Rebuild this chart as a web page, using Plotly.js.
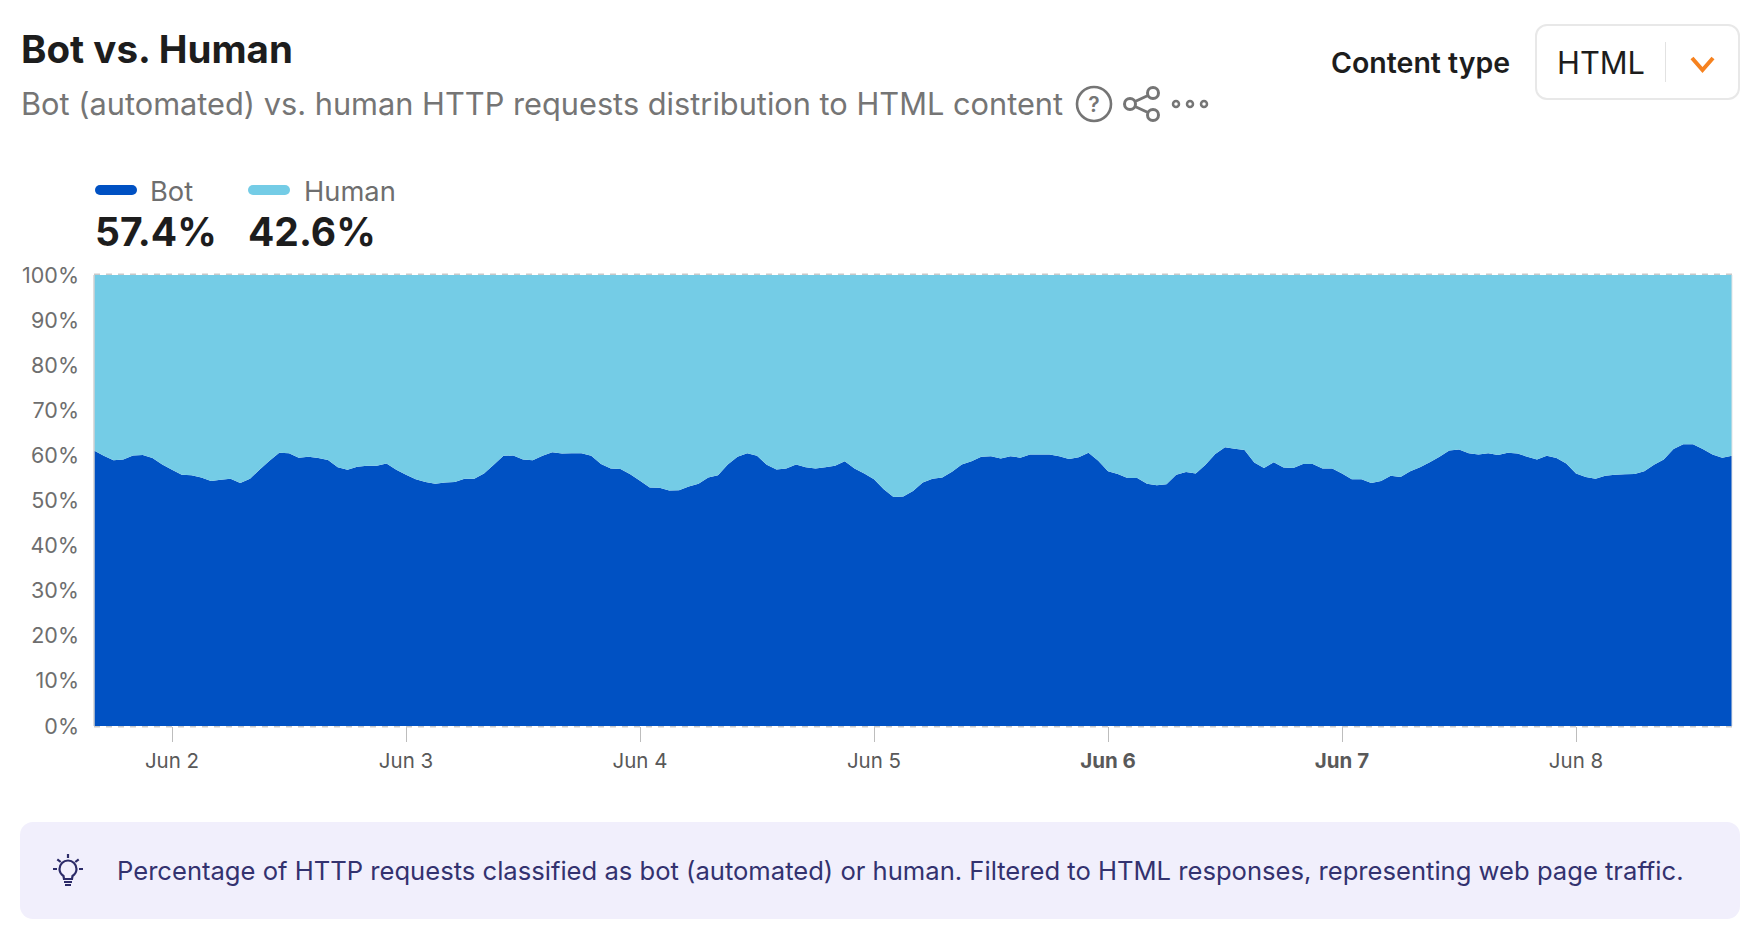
<!DOCTYPE html>
<html><head><meta charset="utf-8">
<script src="https://cdn.plot.ly/plotly-3.0.1.min.js"></script>
<style>
html,body{margin:0;padding:0;background:#fff;width:1758px;height:942px;overflow:hidden;font-family:Inter,sans-serif}
#chart{position:absolute;left:0;top:0;width:1758px;height:942px}
.t{position:absolute;white-space:nowrap;line-height:1}
svg.i{position:absolute;overflow:visible}
</style></head><body>
<div id="chart"></div>
<div class="t" style="left:21px;top:30px;font-size:38.500px;font-weight:700;color:#1d1d1d">Bot vs. Human</div>
<div class="t" style="left:21px;top:89px;font-size:30.760px;font-weight:400;color:#757575">Bot (automated) vs. human HTTP requests distribution to HTML content</div>
<svg class="i" style="left:1075px;top:85px" width="40" height="40" viewBox="0 0 40 40"><circle cx="19" cy="19" r="17" fill="none" stroke="#757575" stroke-width="2.6"/><text x="19" y="27" font-family="Inter" font-size="21" font-weight="600" text-anchor="middle" fill="#757575">?</text></svg>
<svg class="i" style="left:1122px;top:85px" width="40" height="40" viewBox="0 0 40 40" fill="none" stroke="#757575" stroke-width="3"><circle cx="8" cy="19" r="5.500"/><circle cx="31" cy="8" r="5.500"/><circle cx="31" cy="30" r="5.500"/><path d="M13 16.500L26 10.500M13 21.500L26 27.500"/></svg>
<svg class="i" style="left:1170px;top:96px" width="40" height="20" viewBox="0 0 40 20" fill="none" stroke="#757575" stroke-width="2.500"><circle cx="6" cy="8" r="3"/><circle cx="20" cy="8" r="3"/><circle cx="34" cy="8" r="3"/></svg>
<div class="t" style="left:1331px;top:49px;font-size:28.500px;font-weight:600;color:#1d1d1d">Content type</div>
<div style="position:absolute;left:1535px;top:24px;width:201px;height:72px;border:2px solid #e8e8e8;border-radius:12px;box-sizing:content-box"></div>
<div class="t" style="left:1557px;top:48px;font-size:30.800px;color:#1d1d1d">HTML</div>
<div style="position:absolute;left:1665px;top:42px;width:1px;height:40px;background:#e2e2e2"></div>
<svg class="i" style="left:1690px;top:56px" width="28" height="18" viewBox="0 0 28 18"><path d="M2 2L12.500 14L23 2" fill="none" stroke="#f6821f" stroke-width="4"/></svg>
<div style="position:absolute;left:95px;top:185px;width:42px;height:10px;border-radius:5px;background:#0051c3"></div>
<div class="t" style="left:150px;top:178px;font-size:27.300px;color:#6e6e6e">Bot</div>
<div style="position:absolute;left:248px;top:185px;width:42px;height:10px;border-radius:5px;background:#74cce6"></div>
<div class="t" style="left:304px;top:178px;font-size:27.300px;color:#6e6e6e">Human</div>
<div class="t" style="left:95px;top:212px;font-size:39px;font-weight:700;color:#1d1d1d">57.4%</div>
<div class="t" style="left:248px;top:212px;font-size:39px;font-weight:700;color:#1d1d1d">42.6%</div>
<div style="position:absolute;left:20px;top:822px;width:1720px;height:97px;background:#f1effc;border-radius:13px"></div>
<svg class="i" style="left:50px;top:852px" width="40" height="40" viewBox="0 0 40 40" fill="none" stroke="#2c2b68" stroke-width="2.200"><path d="M14 27L13.500 24C10.500 22 9.500 19.500 9.500 17A8.500 8.500 0 0 1 26.500 17C26.500 19.500 25.500 22 22.500 24L22 27Z"/><path d="M14 30H22M15 33H21M18 2V6M7.300 7.300L10.700 10M28.700 7.300L25.300 10M3 17H7M29 17H33"/></svg>
<div class="t" style="left:117px;top:858px;font-size:25.600px;color:#33326f">Percentage of HTTP requests classified as bot (automated) or human. Filtered to HTML responses, representing web page traffic.</div>
<script>
const botShare = [61.1,59.9,58.9,59.1,60.0,60.1,59.4,58.0,56.8,55.7,55.6,55.1,54.3,54.6,54.8,53.9,54.8,56.9,58.8,60.6,60.5,59.5,59.7,59.4,59.0,57.4,56.8,57.5,57.7,57.7,58.2,56.8,55.7,54.7,54.1,53.7,54.0,54.1,54.8,54.8,56.0,57.9,59.9,60.0,59.1,58.9,59.9,60.7,60.4,60.5,60.5,59.9,58.1,57.1,57.0,55.8,54.4,52.9,52.8,52.2,52.3,53.1,53.7,55.1,55.6,58.0,59.7,60.5,59.9,57.9,56.9,57.1,58.0,57.4,57.1,57.4,57.7,58.7,57.1,56.0,54.7,52.5,50.8,50.9,52.1,54.0,54.8,55.1,56.4,58.0,58.7,59.7,59.8,59.3,59.8,59.5,60.2,60.2,60.2,59.8,59.2,59.6,60.6,58.8,56.5,55.9,55.0,55.0,53.7,53.4,53.6,55.7,56.3,56.0,57.9,60.3,61.8,61.5,61.2,58.4,57.2,58.5,57.3,57.2,58.1,58.1,57.1,57.1,56.0,54.7,54.7,53.9,54.3,55.5,55.2,56.5,57.4,58.5,59.7,61.1,61.3,60.5,60.2,60.5,60.1,60.6,60.4,59.7,59.1,59.9,59.4,58.2,56.0,55.2,54.8,55.5,55.7,55.8,55.9,56.5,57.9,59.1,61.4,62.5,62.5,61.4,60.2,59.5,59.9];
const humanShare = [38.9,40.1,41.1,40.9,40.0,39.9,40.6,42.0,43.2,44.3,44.4,44.9,45.7,45.4,45.2,46.1,45.2,43.1,41.2,39.4,39.5,40.5,40.3,40.6,41.0,42.6,43.2,42.5,42.3,42.3,41.8,43.2,44.3,45.3,45.9,46.3,46.0,45.9,45.2,45.2,44.0,42.1,40.1,40.0,40.9,41.1,40.1,39.3,39.6,39.5,39.5,40.1,41.9,42.9,43.0,44.2,45.6,47.1,47.2,47.8,47.7,46.9,46.3,44.9,44.4,42.0,40.3,39.5,40.1,42.1,43.1,42.9,42.0,42.6,42.9,42.6,42.3,41.3,42.9,44.0,45.3,47.5,49.2,49.1,47.9,46.0,45.2,44.9,43.6,42.0,41.3,40.3,40.2,40.7,40.2,40.5,39.8,39.8,39.8,40.2,40.8,40.4,39.4,41.2,43.5,44.1,45.0,45.0,46.3,46.6,46.4,44.3,43.7,44.0,42.1,39.7,38.2,38.5,38.8,41.6,42.8,41.5,42.7,42.8,41.9,41.9,42.9,42.9,44.0,45.3,45.3,46.1,45.7,44.5,44.8,43.5,42.6,41.5,40.3,38.9,38.7,39.5,39.8,39.5,39.9,39.4,39.6,40.3,40.9,40.1,40.6,41.8,44.0,44.8,45.2,44.5,44.3,44.2,44.1,43.5,42.1,40.9,38.6,37.5,37.5,38.6,39.8,40.5,40.1];
const tickDates = ['2025-06-02','2025-06-03','2025-06-04','2025-06-05','2025-06-06','2025-06-07','2025-06-08'];
const tickLabels = ['Jun 2','Jun 3','Jun 4','Jun 5','<b>Jun 6</b>','<b>Jun 7</b>','Jun 8'];
const yTicks = [0,10,20,30,40,50,60,70,80,90,100];
const yLabels = ['0%','10%','20%','30%','40%','50%','60%','70%','80%','90%','100%'];
const xRange = ['2025-06-01 16:00:00','2025-06-08 16:00:00'];
const hours = botShare.map((_,i)=>new Date(Date.UTC(2025,5,1,16+i)).toISOString().slice(0,19));
const mk=(name,y,c)=>({type:'scatter',mode:'none',name,x:hours,y,stackgroup:'one',fillcolor:c,line:{width:0,shape:'linear'},hoverinfo:'skip'});
Plotly.newPlot('chart',[mk('Bot',botShare,'#0051c3'),mk('Human',humanShare,'#74cce6')],{
 width:1758,height:942,paper_bgcolor:'#fff',plot_bgcolor:'#fff',showlegend:false,
 margin:{l:94,r:26,t:275,b:216,pad:0},
 font:{family:'Inter, sans-serif',color:'#595959'},
 xaxis:{type:'date',range:xRange,tickmode:'array',tickvals:tickDates,ticktext:tickLabels,ticks:'outside',ticklen:15,tickwidth:1,tickcolor:'#bdbdbd',ticklabelstandoff:1,tickfont:{size:20.500,color:'#595959'},showgrid:false,zeroline:false,showline:false,fixedrange:true},
 yaxis:{range:[0,100],tickmode:'array',tickvals:yTicks,ticktext:yLabels,ticks:'',ticklen:0,ticklabelstandoff:14,tickfont:{size:21.500,color:'#6e6e6e'},showgrid:false,zeroline:false,showline:false,fixedrange:true,automargin:false},
 shapes:[
  {type:'line',xref:'paper',yref:'paper',x0:0,x1:1,y0:1.0015,y1:1.0015,line:{color:'#c9c9c9',width:1.5,dash:'6px,6px'}},
  {type:'line',xref:'paper',yref:'paper',x0:0,x1:1,y0:-0.0015,y1:-0.0015,line:{color:'#c9c9c9',width:1.5,dash:'6px,6px'}},
  {type:'line',xref:'paper',yref:'paper',x0:0,x1:0,y0:0,y1:1,line:{color:'#d2d2d2',width:1.5}},
  {type:'line',xref:'paper',yref:'paper',x0:1,x1:1,y0:0,y1:1,line:{color:'#e4e4e4',width:1}}
 ]
},{staticPlot:true,displayModeBar:false});
</script>
</body></html>
